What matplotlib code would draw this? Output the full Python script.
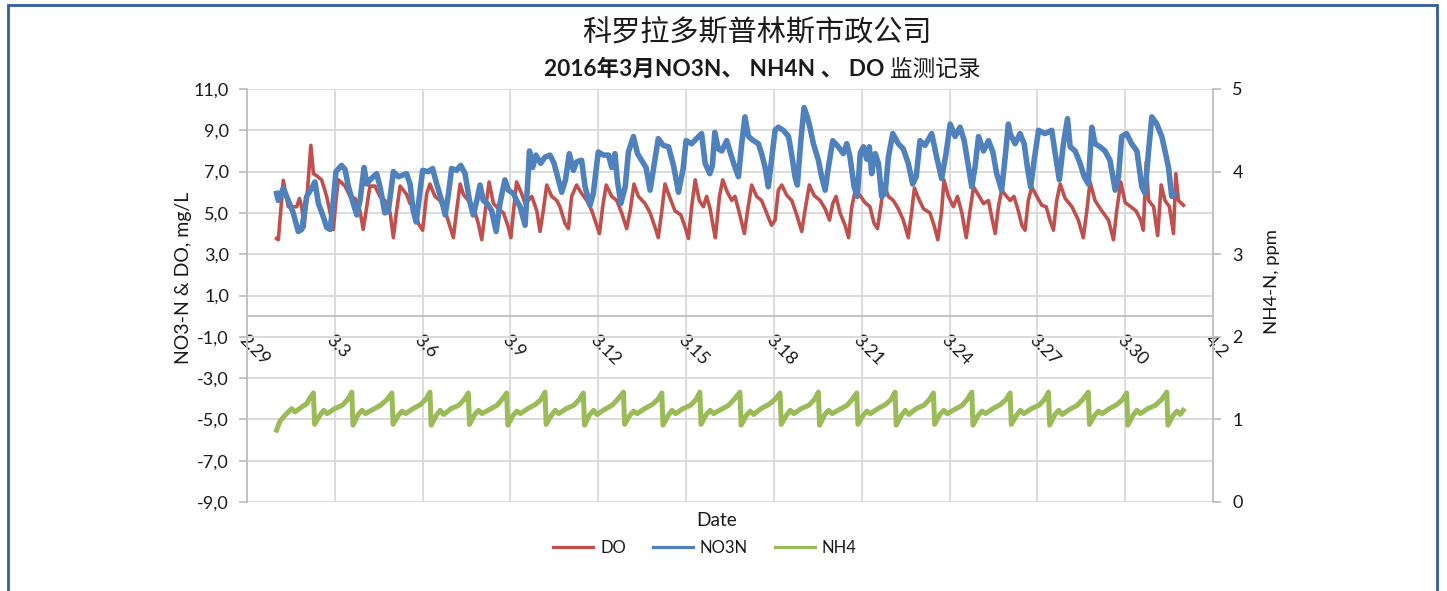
import matplotlib
matplotlib.use('Agg')
import matplotlib.pyplot as plt
from matplotlib.lines import Line2D
from matplotlib.patches import Rectangle

# ---------------- data (x = days after 2.29) ----------------
x_tick_pos = [0, 3, 6, 9, 12, 15, 18, 21, 24, 27, 30, 33]
x_tick_labels = ['2.29', '3.3', '3.6', '3.9', '3.12', '3.15', '3.18', '3.21',
                 '3.24', '3.27', '3.30', '4.2']
left_ticks = [-9, -7, -5, -3, -1, 1, 3, 5, 7, 9, 11]
right_ticks = [0, 1, 2, 3, 4, 5]

do_days = [1.01, 1.07, 1.24, 1.41, 1.7, 1.79, 1.87, 1.95, 2.04, 2.18, 2.27, 2.38, 2.55, 2.72,
           2.84, 2.95, 3.04, 3.12, 3.35, 3.52, 3.69, 3.86, 3.97, 4.07, 4.2, 4.37, 4.54, 4.71,
           4.89, 5.0, 5.11, 5.23, 5.45,
           5.57, 5.74, 5.85, 6.0, 6.14, 6.25, 6.42, 6.59, 6.77, 6.94, 7.05, 7.16, 7.28, 7.39,
           7.56, 7.73, 7.9, 8.02, 8.13, 8.27, 8.42, 8.59, 8.76, 8.93, 9.01, 9.1, 9.21, 9.38,
           9.5, 9.61, 9.73, 9.9, 10.01, 10.12, 10.24, 10.41, 10.58,
           10.69, 10.86, 10.98, 11.09, 11.26, 11.43, 11.61, 11.78, 11.92, 12.04, 12.15, 12.27,
           12.46, 12.63, 12.8, 12.97, 13.09, 13.22, 13.37, 13.6, 13.77, 13.94, 14.05, 14.17,
           14.28, 14.43, 14.62, 14.82, 14.97, 15.08, 15.19, 15.31, 15.45, 15.59, 15.7,
           15.82, 15.93, 16.0, 16.14, 16.25, 16.41, 16.56, 16.67, 16.82, 16.99, 17.1, 17.24,
           17.41, 17.58, 17.75, 17.92, 18.04, 18.15, 18.27, 18.44, 18.61, 18.78, 18.95, 19.06,
           19.21, 19.37, 19.58, 19.75, 19.9, 20.01, 20.12, 20.26, 20.43, 20.55, 20.66, 20.77,
           20.94, 21.11, 21.28, 21.42, 21.54, 21.65, 21.76, 21.91, 22.08, 22.25, 22.42, 22.59,
           22.71, 22.8, 22.94, 23.11, 23.33, 23.47, 23.6, 23.73, 23.81, 23.96, 24.13, 24.27,
           24.42, 24.57, 24.7, 24.82, 24.99, 25.16, 25.33, 25.44, 25.56, 25.67, 25.78, 25.95,
           26.07, 26.2, 26.35, 26.47, 26.58, 26.69, 26.81, 26.98, 27.15, 27.3, 27.43, 27.55,
           27.66, 27.78, 27.95, 28.18, 28.4, 28.57, 28.69, 28.8, 28.97, 29.2, 29.43, 29.6,
           29.71, 29.85, 30.0, 30.19, 30.37, 30.53, 30.62, 30.72, 30.8, 30.97, 31.11, 31.23,
           31.36, 31.51, 31.65, 31.73, 31.82, 31.99]
do_vals = [3.76, 3.7, 6.58, 5.3, 5.3, 5.7, 5.3, 4.3, 5.6, 8.27, 6.9, 6.8, 6.6, 5.8,
           5.0, 4.2, 5.6, 6.6, 6.3, 5.8, 5.7, 5.1, 4.2, 5.1, 6.3, 6.3, 5.8, 5.6,
           5.0, 3.8, 5.1, 6.3, 5.9,
           5.45, 5.3, 4.5, 4.16, 5.94, 6.4, 5.8, 5.6, 5.1, 4.3, 3.8, 5.1, 6.4, 5.9,
           5.6, 5.3, 4.5, 3.7, 5.0, 6.5, 5.45, 5.2, 5.0, 4.3, 3.8, 5.0, 6.5, 5.94,
           5.45, 5.6, 5.8, 5.1, 4.1, 5.1, 6.35, 5.8, 5.6,
           5.3, 4.5, 4.24, 5.8, 6.35, 5.94, 5.6, 5.1, 4.5, 4.0, 5.3, 6.35,
           5.8, 5.6, 5.0, 4.24, 5.1, 6.4, 5.8, 5.45, 5.0, 4.3, 3.8, 5.1,
           6.4, 5.8, 5.1, 4.9, 4.3, 3.76, 5.3, 6.6, 5.6, 5.3, 5.8,
           5.2, 4.3, 3.8, 5.8, 6.6, 6.0, 5.6, 5.8, 5.0, 4.0, 5.1, 6.35,
           5.8, 5.6, 5.0, 4.4, 4.65, 6.1, 6.35, 5.85, 5.6, 4.9, 4.1, 5.1,
           6.35, 5.85, 5.6, 5.2, 4.65, 5.45, 5.8, 5.0, 4.4, 3.8, 5.3, 6.0,
           5.85, 5.5, 5.3, 4.5, 4.24, 5.3, 6.4, 5.8, 5.6, 5.2, 4.65, 3.8,
           5.1, 6.2, 5.7, 5.2, 5.0, 4.4, 3.7, 5.1, 6.6, 5.8, 5.3, 5.8,
           5.0, 3.8, 5.1, 6.26, 5.85, 5.45, 5.6, 4.8, 4.0, 5.3, 6.1, 5.8,
           5.6, 5.8, 5.1, 4.4, 4.16, 5.6, 6.26, 5.8, 5.37, 5.3, 4.65, 4.16,
           5.6, 6.4, 5.7, 5.3, 4.65, 3.8, 5.1, 6.5, 5.6, 5.1, 4.65, 3.7,
           5.1, 6.5, 5.5, 5.3, 5.1, 4.65, 4.16, 7.47, 5.6, 5.3, 3.9, 6.35,
           5.6, 5.3, 4.0, 6.9, 5.6, 5.37]

no3_days = [1.01, 1.07, 1.24, 1.41, 1.58, 1.75, 1.87, 2.04, 2.21, 2.32, 2.44, 2.61, 2.72, 2.84,
            2.95, 3.04, 3.23, 3.35, 3.46, 3.63, 3.75, 3.86, 4.0, 4.09, 4.2, 4.43, 4.54, 4.71,
            4.83, 5.0, 5.17, 5.45,
            5.57, 5.68, 5.78, 5.89, 6.0, 6.2, 6.34, 6.48, 6.65, 6.77, 6.88, 6.99, 7.16, 7.3,
            7.45, 7.6, 7.73, 7.85, 7.96, 8.07, 8.21, 8.36, 8.51, 8.64, 8.81, 8.93, 9.1, 9.21,
            9.33, 9.5, 9.58, 9.65, 9.76, 9.87, 10.03, 10.18, 10.35, 10.49, 10.64,
            10.75, 10.88, 11.01, 11.15, 11.26, 11.43, 11.55, 11.72, 11.83, 12.0, 12.17, 12.35,
            12.46, 12.57, 12.65, 12.77, 12.92, 13.03, 13.2, 13.34, 13.48, 13.63, 13.77, 13.94,
            14.05, 14.22, 14.4, 14.57, 14.74, 14.9, 15.0, 15.19, 15.36, 15.53, 15.65,
            15.81, 15.9, 15.98, 16.1, 16.22, 16.39, 16.52, 16.67, 16.79, 16.9, 17.01, 17.13,
            17.3, 17.47, 17.58, 17.7, 17.81, 17.92, 18.04, 18.15, 18.32, 18.5, 18.61, 18.72,
            18.8, 18.92, 19.03, 19.14, 19.23, 19.35, 19.52, 19.63, 19.75, 19.86, 20.01, 20.2,
            20.37, 20.49, 20.6, 20.74, 20.85,
            20.95, 21.06, 21.17, 21.26, 21.34, 21.46, 21.57, 21.68, 21.8, 21.91, 22.06, 22.25,
            22.42, 22.59, 22.74, 22.86, 22.99, 23.16, 23.39, 23.56, 23.73, 23.88, 24.02, 24.19,
            24.36, 24.5, 24.65, 24.76, 24.87, 24.99, 25.16, 25.33, 25.48, 25.61, 25.78, 25.9,
            26.01,
            26.07, 26.24, 26.41, 26.55, 26.66, 26.77, 26.89, 27.04, 27.26, 27.49, 27.61, 27.75,
            27.89, 28.03, 28.12, 28.29, 28.46, 28.6, 28.74, 28.86, 28.97, 29.14, 29.31, 29.48,
            29.66, 29.77, 29.88, 30.05, 30.22, 30.4, 30.57, 30.68, 30.79, 30.91, 31.08, 31.25,
            31.36, 31.48, 31.59, 31.67]
no3_vals = [5.94, 5.6, 6.2, 5.6, 5.0, 4.1, 4.2, 5.8, 6.2, 6.5, 5.45, 4.8, 4.3, 4.2,
            5.6, 7.0, 7.3, 7.1, 6.3, 5.45, 4.9, 5.6, 7.2, 6.4, 6.6, 6.9, 6.3, 5.0,
            5.1, 7.0, 6.75, 6.9,
            6.4, 5.1, 4.56, 5.8, 7.06, 7.0, 7.15, 6.4, 5.6, 4.9, 5.9, 7.15, 7.06, 7.3,
            6.9, 5.6, 4.9, 5.6, 6.35, 5.6, 5.45, 5.1, 4.1, 5.45, 6.6, 6.1, 5.94, 5.6,
            5.3, 4.4, 6.26, 8.0, 7.2, 7.8, 7.4, 7.7, 7.8, 7.4, 6.6,
            6.0, 6.6, 7.87, 7.06, 7.47, 7.55, 6.26, 5.37, 5.94, 7.95, 7.8, 7.8,
            7.2, 7.87, 6.6, 5.45, 6.26, 7.95, 8.7, 7.87, 7.55, 7.2, 6.1, 7.63,
            8.6, 8.27, 8.2, 7.3, 6.0, 7.15, 8.5, 8.35, 8.6, 8.84, 7.4,
            6.9, 7.3, 8.9, 8.1, 8.0, 8.5, 7.87, 7.2, 6.75, 8.35, 9.65, 8.7,
            8.5, 8.35, 7.87, 7.2, 6.26, 7.55, 9.0, 9.15, 9.0, 8.7, 7.8, 6.75,
            6.35, 8.5, 10.1, 9.65, 9.15, 8.35, 7.55, 6.75, 6.1, 7.2, 8.5, 8.2,
            7.87, 8.35, 7.7, 6.26, 5.8,
            7.9, 8.2, 7.6, 8.2, 6.9, 7.87, 7.4, 5.8, 5.94, 7.7, 8.84, 8.35,
            8.1, 7.4, 6.4, 6.75, 8.5, 8.27, 8.84, 7.7, 6.66, 7.87, 9.3, 8.7,
            9.15, 8.5, 7.2, 6.26, 7.2, 8.7, 8.0, 8.5, 7.95, 6.9, 6.1, 7.7,
            9.3,
            8.84, 8.35, 8.84, 8.35, 7.2, 6.26, 7.55, 9.0, 8.84, 9.0, 7.87, 6.6,
            8.35, 9.56, 8.2, 8.0, 7.4, 6.75, 6.4, 9.15, 8.35, 8.2, 8.0, 7.55,
            6.1, 6.75, 8.7, 8.84, 8.35, 8.0, 6.26, 5.94, 7.87, 9.65, 9.3, 8.7,
            8.0, 7.2, 5.8, 5.94]

nh4_days = [1.01, 1.13, 1.35, 1.53, 1.64, 1.87, 2.04, 2.15, 2.27,
            2.31, 2.49, 2.62, 2.74, 2.99, 3.25, 3.44, 3.58,
            3.62, 3.80, 3.93, 4.05, 4.30, 4.56, 4.78, 4.95,
            4.99, 5.17, 5.30, 5.42, 5.67, 5.93, 6.12, 6.25,
            6.29, 6.47, 6.60, 6.72, 6.97, 7.23, 7.42, 7.56,
            7.60, 7.78, 7.91, 8.03, 8.28, 8.54, 8.73, 8.87,
            8.91, 9.09, 9.22, 9.34, 9.59, 9.85, 10.04, 10.18,
            10.22, 10.40, 10.53, 10.65, 10.90, 11.16, 11.35, 11.49,
            11.53, 11.71, 11.84, 11.96, 12.21, 12.47, 12.68, 12.86,
            12.90, 13.08, 13.21, 13.33, 13.58, 13.84, 14.03, 14.17,
            14.21, 14.39, 14.52, 14.64, 14.89, 15.15, 15.34, 15.47,
            15.51, 15.69, 15.82, 15.94, 16.19, 16.45, 16.66, 16.84,
            16.88, 17.06, 17.19, 17.31, 17.56, 17.82, 18.03, 18.21,
            18.25, 18.43, 18.56, 18.68, 18.93, 19.19, 19.38, 19.52,
            19.56, 19.74, 19.87, 19.99, 20.24, 20.50, 20.69, 20.83,
            20.87, 21.05, 21.18, 21.30, 21.55, 21.81, 22.00, 22.14,
            22.18, 22.36, 22.49, 22.61, 22.86, 23.12, 23.31, 23.45,
            23.49, 23.67, 23.80, 23.92, 24.17, 24.43, 24.62, 24.76,
            24.80, 24.98, 25.11, 25.23, 25.48, 25.74, 25.93, 26.07,
            26.11, 26.29, 26.42, 26.54, 26.79, 27.05, 27.24, 27.38,
            27.42, 27.60, 27.73, 27.85, 28.10, 28.36, 28.57, 28.74,
            28.78, 28.96, 29.09, 29.21, 29.46, 29.72, 29.91, 30.05,
            30.09, 30.27, 30.40, 30.52, 30.77, 31.03, 31.24, 31.42,
            31.46, 31.64, 31.77, 31.88, 31.98]
nh4_vals = [0.87, 0.98, 1.07, 1.13, 1.09, 1.15, 1.19, 1.26, 1.32,
            0.94, 1.05, 1.11, 1.07, 1.13, 1.17, 1.24, 1.33,
            0.93, 1.06, 1.11, 1.07, 1.12, 1.17, 1.24, 1.32,
            0.94, 1.05, 1.10, 1.07, 1.13, 1.18, 1.25, 1.33,
            0.93, 1.05, 1.11, 1.06, 1.13, 1.17, 1.24, 1.32,
            0.94, 1.06, 1.11, 1.07, 1.12, 1.17, 1.25, 1.32,
            0.93, 1.05, 1.10, 1.07, 1.13, 1.18, 1.24, 1.33,
            0.94, 1.05, 1.11, 1.07, 1.13, 1.17, 1.24, 1.32,
            0.93, 1.06, 1.11, 1.06, 1.12, 1.17, 1.25, 1.33,
            0.94, 1.05, 1.10, 1.07, 1.13, 1.18, 1.24, 1.32,
            0.93, 1.05, 1.11, 1.07, 1.13, 1.17, 1.24, 1.33,
            0.94, 1.06, 1.11, 1.07, 1.12, 1.17, 1.25, 1.33,
            0.93, 1.05, 1.10, 1.06, 1.13, 1.18, 1.24, 1.32,
            0.94, 1.05, 1.11, 1.07, 1.13, 1.17, 1.24, 1.33,
            0.93, 1.06, 1.11, 1.07, 1.12, 1.17, 1.25, 1.32,
            0.94, 1.05, 1.10, 1.07, 1.13, 1.18, 1.24, 1.33,
            0.93, 1.05, 1.11, 1.06, 1.13, 1.17, 1.24, 1.32,
            0.94, 1.06, 1.11, 1.07, 1.12, 1.17, 1.25, 1.33,
            0.93, 1.05, 1.10, 1.07, 1.13, 1.18, 1.24, 1.32,
            0.94, 1.05, 1.11, 1.07, 1.13, 1.17, 1.24, 1.33,
            0.93, 1.06, 1.11, 1.06, 1.12, 1.17, 1.25, 1.33,
            0.94, 1.05, 1.10, 1.07, 1.13, 1.18, 1.24, 1.32,
            0.93, 1.05, 1.11, 1.07, 1.13, 1.17, 1.24, 1.33,
            0.93, 1.05, 1.10, 1.06, 1.11]

# ---------------- styling ----------------
W, H = 1447, 591
LAT = ['Lato', 'Noto Sans CJK SC', 'DejaVu Sans']
plt.rcParams['font.family'] = LAT
TXT = '#1a1a1a'
GRID = '#d9d9d9'
AXC = '#bfbfbf'
C_DO, C_NO3, C_NH4 = '#c0504d', '#4f81bd', '#9bbb59'

fig = plt.figure(figsize=(W / 100, H / 100), dpi=100)
ax = fig.add_axes([247 / W, 1 - 502 / H, (1213 - 247) / W, (502 - 89) / H])
ax2 = ax.twinx()

ax.plot(do_days, do_vals, color=C_DO, lw=2.6, solid_joinstyle='round', zorder=3)
ax.plot(no3_days, no3_vals, color=C_NO3, lw=4.0, solid_joinstyle='round', zorder=4)
ax2.plot(nh4_days, nh4_vals, color=C_NH4, lw=3.6, solid_joinstyle='round', zorder=3)

ax.set_xlim(0, 33)
ax.set_ylim(-9, 11)
ax2.set_ylim(0, 5)

ax.set_yticks(left_ticks)
ax.set_yticklabels([('%.1f' % v).replace('.', ',') for v in left_ticks])
ax2.set_yticks(right_ticks)
ax2.set_yticklabels([str(v) for v in right_ticks])
ax.set_xticks(x_tick_pos)
ax.set_xticklabels(x_tick_labels)

ax.grid(True, color=GRID, lw=1.3, zorder=0)
ax.set_axisbelow(True)

for s in ['top', 'right']:
    ax.spines[s].set_visible(False)
ax.spines['left'].set_color(AXC)
ax.spines['left'].set_linewidth(1.3)
ax.spines['bottom'].set_position(('data', 0))
ax.spines['bottom'].set_color(AXC)
ax.spines['bottom'].set_linewidth(1.3)
for s in ['top', 'left', 'bottom']:
    ax2.spines[s].set_visible(False)
ax2.spines['right'].set_color(AXC)
ax2.spines['right'].set_linewidth(1.3)

ax.tick_params(axis='y', direction='out', length=6, width=1.3, color=AXC,
               labelsize=13, labelcolor=TXT, pad=7)
ax2.tick_params(axis='y', direction='out', length=6, width=1.3, color=AXC,
                labelsize=13, labelcolor=TXT, pad=8)
ax.tick_params(axis='x', length=0, labelsize=13, labelcolor=TXT, pad=11)
for lbl in ax.get_xticklabels():
    lbl.set_rotation(-45)
    lbl.set_rotation_mode('anchor')
    lbl.set_ha('left')
    lbl.set_va('top')

# titles and labels
fig.text(757 / W, 1 - 34 / H, '科罗拉多斯普林斯市政公司', ha='center', va='center',
         fontsize=21, family=['Noto Sans CJK SC'], color=TXT)

t_bold = fig.text(0, 1 - 69 / H, '2016年3月NO3N、 NH4N 、 DO ', ha='left', va='center',
                  fontsize=16.3, fontweight='bold', family=LAT, color=TXT)
t_norm = fig.text(0, 1 - 69 / H, '监测记录', ha='left', va='center',
                  fontsize=16.3, family=['Noto Sans CJK SC'], color=TXT)
fig.canvas.draw()
r = fig.canvas.get_renderer()
wb = t_bold.get_window_extent(r).width
wn = t_norm.get_window_extent(r).width
x0 = 762 - (wb + wn) / 2
t_bold.set_x(x0 / W)
t_norm.set_x((x0 + wb) / W)

fig.text(183 / W, 1 - 278 / H, 'NO3-N & DO, mg/L', rotation=90, ha='center', va='center',
         fontsize=14, color=TXT)
fig.text(1272 / W, 1 - 282 / H, 'NH4-N, ppm', rotation=90, ha='center', va='center',
         fontsize=13.3, color=TXT)
fig.text(717 / W, 1 - 520 / H, 'Date', ha='center', va='center', fontsize=13.8, color=TXT)

handles = [Line2D([], [], color=C_DO, lw=2.3),
           Line2D([], [], color=C_NO3, lw=2.3),
           Line2D([], [], color=C_NH4, lw=2.3)]
fig.legend(handles, ['DO', 'NO3N', 'NH4'], loc='center', bbox_to_anchor=(705 / W, 1 - 548 / H),
           ncol=3, frameon=False, fontsize=12, handlelength=2.4, handletextpad=0.42,
           columnspacing=1.6, labelcolor=TXT)

# chart border
fig.patches.append(Rectangle((8 / W, -0.05), (1437 - 8) / W, 1.05 - 5 / H,
                             transform=fig.transFigure, fill=False, edgecolor='#2f5f9f', lw=2))

fig.savefig('out.png', dpi=100)
